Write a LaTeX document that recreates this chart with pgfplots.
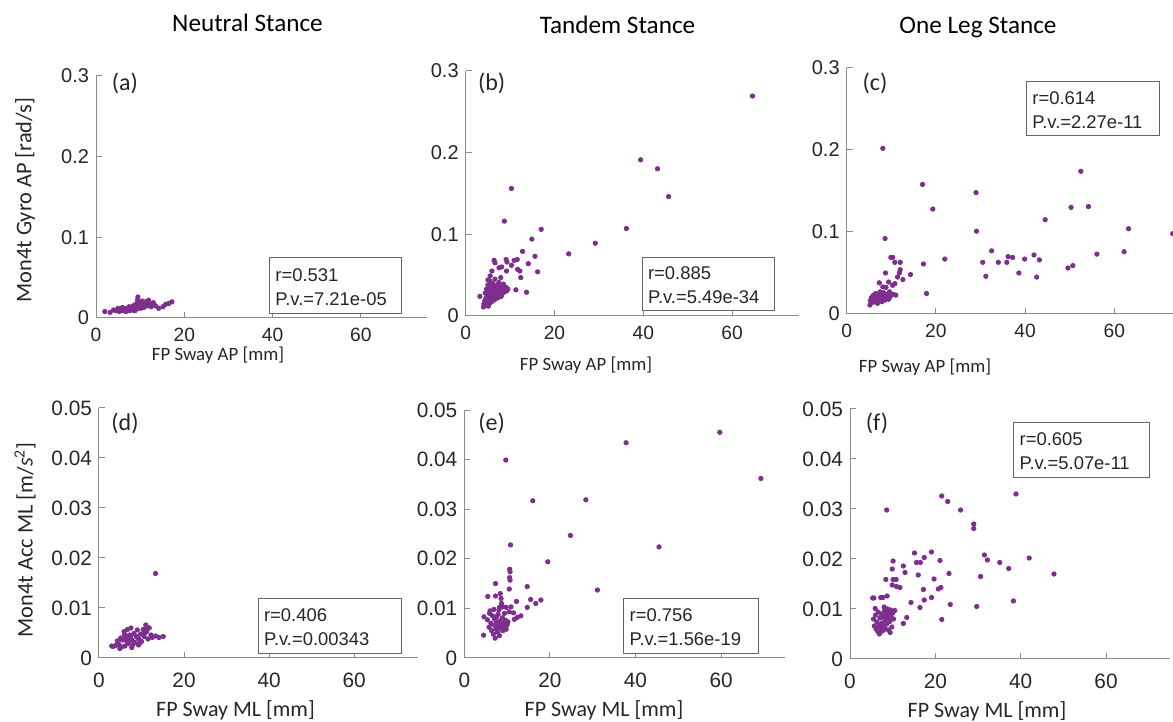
\documentclass[border=0pt]{standalone}
\usepackage{fontspec}
\setmainfont{Liberation Sans}
\newfontfamily\ar{Liberation Sans}
\newfontfamily\cb{Carlito}
\usepackage{pgfplots}
\pgfplotsset{compat=1.18}

\definecolor{mpurple}{RGB}{126,47,142}
\definecolor{axgray}{RGB}{140,140,140}
\definecolor{boxgray}{RGB}{100,100,100}
\definecolor{txt}{RGB}{38,38,38}

\pgfplotsset{
  dots/.style={only marks, mark=*, mark size=1.1pt, color=mpurple, fill=mpurple},
  panel/.style={
    scale only axis, anchor=south west,
    xmin=0, xmax=75,
    xtick={0,20,40,60}, xticklabels={0,20,40,60},
    scaled x ticks=false, scaled y ticks=false,
    axis x line*=bottom, axis y line*=left,
    axis line style={-, draw=axgray, line width=0.5pt},
    tick style={draw=axgray, line width=0.5pt},
    tick align=inside, major tick length=3pt,
    ticklabel style={text=txt},
  },
  toprow/.style={
    panel, ymin=0, ymax=0.3,
    ytick={0,0.1,0.2,0.3}, yticklabels={0,0.1,0.2,0.3},
    yticklabel style={font=\ar\fontsize{10}{12}\selectfont},
    xticklabel style={font=\ar\fontsize{9.6}{12}\selectfont, yshift=-1.7pt},
  },
  botrow/.style={
    panel, ymin=0, ymax=0.05,
    ytick={0,0.01,0.02,0.03,0.04,0.05}, yticklabels={0,0.01,0.02,0.03,0.04,0.05},
    yticklabel style={font=\ar\fontsize{10.4}{12}\selectfont},
    xticklabel style={font=\ar\fontsize{10.4}{12}\selectfont, yshift=-4pt},
  },
}

% stats box: x, y (north west), width, height, line1, line2
\newcommand{\statbox}[6]{%
  \node[draw=boxgray, fill=white, line width=0.5pt, anchor=north west,
        minimum width=#3, minimum height=#4, inner sep=0pt] (sb) at (#1,#2) {};
  \node[anchor=west, align=left, inner sep=0pt, text=txt,
        font=\ar\fontsize{9.2}{12}\selectfont] at ([xshift=3pt,yshift=-0.8pt]sb.west) {#5\\#6};
}

\begin{document}
\begin{tikzpicture}
\path[use as bounding box] (0,0) rectangle (586.5pt,361pt);

% (a)
\begin{axis}[toprow, at={(48pt,202pt)}, width=165.5pt, height=121pt]
\addplot[dots] coordinates {
(2.0,0.008)(3.2,0.007)(4.0,0.010)(4.5,0.009)(5.0,0.012)(5.3,0.008)(5.8,0.010)(6.0,0.013)
(6.2,0.009)(6.5,0.011)(6.8,0.008)(7.0,0.012)(7.2,0.010)(7.5,0.014)(7.6,0.009)(7.8,0.011)
(8.0,0.013)(8.2,0.010)(8.4,0.015)(8.6,0.012)(8.8,0.009)(9.0,0.017)(9.2,0.011)(9.4,0.022)
(9.5,0.026)(9.7,0.014)(9.9,0.019)(10.1,0.012)(10.3,0.016)(10.5,0.021)(10.8,0.013)(11.0,0.018)
(11.3,0.020)(11.6,0.015)(11.9,0.022)(12.2,0.017)(12.5,0.014)(13.0,0.019)(13.5,0.015)(14.2,0.012)
(15.2,0.014)(15.8,0.017)(16.5,0.018)(17.2,0.020)
};
\end{axis}

% (b)
\begin{axis}[toprow, at={(232.85pt,203pt)}, width=166.5pt, height=122.65pt]
\addplot[dots] coordinates {
(64.6,0.269)(39.4,0.191)(43.2,0.180)(45.7,0.146)(36.2,0.107)(29.2,0.089)(23.2,0.076)
(10.3,0.156)(8.7,0.116)(17.0,0.106)(14.9,0.094)(12.8,0.079)(15.6,0.073)(6.4,0.068)(6.6,0.065)
(9.1,0.069)(9.3,0.066)(10.9,0.068)(11.6,0.069)(14.1,0.064)(10.3,0.062)(7.5,0.059)(8.1,0.060)
(9.2,0.055)(11.7,0.057)(12.2,0.055)(16.2,0.054)(5.9,0.055)(7.9,0.047)(12.4,0.047)(5.5,0.049)
(11.3,0.032)(13.7,0.029)
(3.2,0.024)(4.0,0.011)(4.1,0.015)(4.3,0.019)(4.4,0.028)(4.5,0.013)(4.6,0.022)(4.7,0.033)
(4.8,0.017)(4.9,0.026)(5.0,0.038)(5.1,0.012)(5.2,0.030)(5.3,0.021)(5.4,0.043)(5.5,0.016)
(5.6,0.035)(5.7,0.025)(5.8,0.029)(5.9,0.019)(6.0,0.040)(6.1,0.032)(6.2,0.023)(6.3,0.036)
(6.4,0.027)(6.5,0.020)(6.6,0.045)(6.7,0.031)(6.8,0.024)(6.9,0.034)(7.0,0.028)(7.1,0.038)
(7.2,0.022)(7.3,0.030)(7.4,0.026)(7.5,0.041)(7.6,0.033)(7.8,0.029)(7.9,0.036)(8.0,0.024)
(8.2,0.032)(8.4,0.028)(8.5,0.039)(8.7,0.034)(8.9,0.030)(9.1,0.035)(9.3,0.031)(9.5,0.033)
(5.0,0.044)(6.0,0.018)
};
\end{axis}

% (c)
\begin{axis}[toprow, at={(423.35pt,204pt)}, width=167.25pt, height=123pt]
\addplot[dots] coordinates {
(8.1,0.202)(17.0,0.158)(19.3,0.128)(29.0,0.148)(29.1,0.101)(8.6,0.092)(22.0,0.067)(17.2,0.061)
(17.9,0.025)(14.3,0.048)(30.5,0.063)(31.2,0.046)(32.5,0.077)(34.0,0.063)(35.9,0.063)(36.2,0.070)
(37.2,0.069)(38.6,0.050)(39.9,0.067)(42.0,0.072)(42.6,0.045)(43.2,0.066)(44.5,0.115)(49.6,0.056)
(50.7,0.059)(50.3,0.130)(52.5,0.174)(54.2,0.131)(56.1,0.073)(62.2,0.076)(63.2,0.104)(73.1,0.098)
(9.9,0.069)(10.3,0.069)(10.8,0.063)(12.0,0.063)(12.0,0.054)(11.8,0.050)(11.4,0.045)(12.6,0.042)
(8.7,0.050)(9.4,0.039)(7.3,0.038)(8.1,0.033)(8.8,0.0325)(10.3,0.035)(10.8,0.037)(9.6,0.027)
(10.4,0.024)(11.0,0.023)
(5.2,0.011)(5.3,0.016)(5.5,0.020)(5.7,0.014)(5.9,0.018)(6.0,0.023)(6.2,0.015)(6.3,0.020)
(6.5,0.025)(6.6,0.017)(6.8,0.021)(6.9,0.013)(7.0,0.019)(7.1,0.024)(7.3,0.016)(7.4,0.022)
(7.5,0.027)(7.6,0.018)(7.8,0.020)(7.9,0.015)(8.0,0.023)(8.2,0.019)(8.3,0.026)(8.5,0.021)
(8.6,0.017)(8.8,0.024)(9.0,0.020)(9.2,0.022)(9.4,0.018)(9.7,0.021)
};
\end{axis}

% (d)
\begin{axis}[botrow, at={(49.5pt,32pt)}, width=159.5pt, height=125pt]
\addplot[dots] coordinates {
(13.3,0.0169)
(3.3,0.0023)(3.9,0.0025)(4.7,0.0027)(4.3,0.0034)(5.1,0.0040)(5.5,0.0036)(5.9,0.0053)(6.3,0.0041)
(6.7,0.0057)(6.9,0.0029)(7.2,0.0046)(7.5,0.0060)(7.7,0.0021)(7.8,0.0036)(8.2,0.0049)(8.5,0.0031)
(8.8,0.0043)(9.0,0.0056)(9.3,0.0026)(9.4,0.0038)(9.8,0.0048)(10.0,0.0033)(10.4,0.0057)(10.6,0.0043)
(11.0,0.0066)(11.2,0.0053)(11.5,0.0038)(11.8,0.0060)(12.2,0.0046)(12.5,0.0041)(13.3,0.0044)(14.1,0.0041)
(15.1,0.0043)(4.9,0.0019)(6.1,0.0024)(7.1,0.0035)
(3.0,0.0024)(5.3,0.0022)(6.5,0.0034)(8.0,0.0027)(9.6,0.0030)(10.8,0.0050)(11.3,0.0062)(7.4,0.0043)
(6.0,0.0047)(9.0,0.0041)
};
\end{axis}

% (e)
\begin{axis}[botrow, at={(232.15pt,32pt)}, width=160.5pt, height=124pt]
\addplot[dots] coordinates {
(9.7,0.0399)(37.8,0.0434)(59.7,0.0455)(69.3,0.0362)(16.0,0.0317)(28.4,0.0319)(24.8,0.0247)
(10.8,0.0228)(19.5,0.0194)(45.5,0.0224)(31.1,0.0137)
(10.6,0.0179)(10.7,0.0174)(10.6,0.0162)(10.7,0.0157)(7.3,0.0150)(10.5,0.0139)(14.7,0.0144)
(5.5,0.0124)(7.3,0.0125)(8.4,0.0130)(8.6,0.0120)(8.7,0.0110)(12.2,0.0114)(15.5,0.0118)(16.7,0.0110)
(17.9,0.0117)(14.7,0.0102)(8.2,0.0102)(9.0,0.0103)(9.8,0.0102)(10.9,0.0103)
(9.4,0.0090)(10.5,0.0093)(11.5,0.0091)(12.4,0.0082)(13.2,0.0085)(11.7,0.0078)(6.0,0.0095)
(4.6,0.0083)(4.5,0.0046)
(5.4,0.0077)(5.8,0.0062)(6.2,0.0070)(6.4,0.0055)(6.6,0.0085)(6.8,0.0048)(7.0,0.0066)(7.1,0.0078)
(7.2,0.0040)(7.4,0.0058)(7.6,0.0072)(7.8,0.0052)(7.9,0.0088)(8.0,0.0064)(8.2,0.0045)(8.3,0.0075)
(8.5,0.0060)(8.7,0.0068)(8.9,0.0081)(9.0,0.0055)(9.2,0.0071)(9.4,0.0063)(9.6,0.0076)(9.8,0.0058)
(10.0,0.0067)(10.2,0.0073)(5.9,0.0090)(6.9,0.0098)(8.1,0.0097)(7.5,0.0083)
};
\end{axis}

% (f)
\begin{axis}[botrow, at={(425pt,31.5pt)}, width=160pt, height=125pt]
\addplot[dots] coordinates {
(8.6,0.0298)(21.5,0.0326)(22.9,0.0315)(25.9,0.0298)(29.0,0.0270)(29.0,0.0261)(38.9,0.0330)
(31.5,0.0208)(32.2,0.0198)(35.1,0.0193)(37.2,0.0181)(42.0,0.0202)(47.8,0.0170)(30.6,0.0165)
(38.3,0.0116)(29.7,0.0105)(23.5,0.0109)(21.5,0.0079)
(15.1,0.0212)(19.1,0.0214)(17.4,0.0203)(15.6,0.0193)(16.5,0.0193)(21.1,0.0197)(10.1,0.0196)
(9.9,0.0180)(12.5,0.0186)(12.9,0.0173)(16.0,0.0168)(23.2,0.0171)(8.4,0.0159)(10.1,0.0159)
(10.8,0.0159)(9.9,0.0148)(10.9,0.0145)(11.7,0.0143)(19.7,0.0160)(17.2,0.0139)(20.7,0.0140)
(21.3,0.0143)(19.1,0.0123)(17.4,0.0118)(14.3,0.0113)(16.4,0.0103)(5.3,0.0122)(5.6,0.0122)
(7.2,0.0123)(7.7,0.0123)(8.7,0.0126)(5.9,0.0101)(13.3,0.0083)(12.5,0.0071)
(5.5,0.0080)(5.7,0.0066)(6.0,0.0088)(6.1,0.0060)(6.3,0.0074)(6.5,0.0055)(6.6,0.0094)(6.8,0.0068)
(6.9,0.0050)(7.0,0.0082)(7.2,0.0062)(7.3,0.0090)(7.5,0.0072)(7.6,0.0056)(7.8,0.0085)(7.9,0.0066)
(8.1,0.0096)(8.2,0.0078)(8.3,0.0060)(8.5,0.0088)(8.6,0.0070)(8.8,0.0100)(8.9,0.0082)(9.0,0.0058)
(9.2,0.0093)(9.3,0.0075)(9.5,0.0098)(9.6,0.0086)(9.8,0.0064)(10.0,0.0092)(10.2,0.0080)(10.5,0.0097)
(8.0,0.0104)(9.4,0.0053)
};
\end{axis}

% stats boxes
\statbox{134.5pt}{232.5pt}{66pt}{28pt}{r=0.531}{P.v.=7.21e-05}
\statbox{320.85pt}{232.65pt}{66.15pt}{26.65pt}{r=0.885}{P.v.=5.49e-34}
\statbox{513pt}{320.5pt}{66.65pt}{27pt}{r=0.614}{P.v.=2.27e-11}
\statbox{128.85pt}{61.85pt}{71.65pt}{27.2pt}{r=0.406}{P.v.=0.00343}
\statbox{311.65pt}{62.15pt}{67.5pt}{27.5pt}{r=0.756}{P.v.=1.56e-19}
\statbox{506.65pt}{149.85pt}{67.7pt}{27.2pt}{r=0.605}{P.v.=5.07e-11}

% column titles
\node[anchor=base, font=\cb\fontsize{12.6}{15}\selectfont] at (123.75pt,345.15pt) {Neutral Stance};
\node[anchor=base, font=\cb\fontsize{12.6}{15}\selectfont] at (308.75pt,344.3pt) {Tandem Stance};
\node[anchor=base, font=\cb\fontsize{12.6}{15}\selectfont] at (489pt,344.3pt) {One Leg Stance};

% panel letters
\foreach \lab/\x/\y in {a/62.5/319.5, b/245.85/319.5, c/437.5/319.5, d/62.5/149.5, e/245.85/149.5, f/438.5/149.5}
  \node[font=\cb\fontsize{12}{14}\selectfont, text=txt] at (\x pt,\y pt) {(\lab)};

% x labels
\node[font=\cb\fontsize{9.4}{11}\selectfont, text=txt] at (109pt,183.5pt) {FP Sway AP [mm]};
\node[font=\cb\fontsize{9.4}{11}\selectfont, text=txt] at (293pt,178.5pt) {FP Sway AP [mm]};
\node[font=\cb\fontsize{9.4}{11}\selectfont, text=txt] at (462.5pt,177.25pt) {FP Sway AP [mm]};
\node[font=\cb\fontsize{11}{13}\selectfont, text=txt] at (117.75pt,6pt) {FP Sway ML [mm]};
\node[font=\cb\fontsize{11}{13}\selectfont, text=txt] at (302pt,6pt) {FP Sway ML [mm]};
\node[font=\cb\fontsize{11}{13}\selectfont, text=txt] at (493.5pt,5.15pt) {FP Sway ML [mm]};

% y labels
\node[rotate=90, font=\cb\fontsize{11.2}{13}\selectfont, text=txt] at (12.5pt,261pt) {Mon4t Gyro AP [rad/s]};
\node[rotate=90, font=\cb\fontsize{11.2}{13}\selectfont, text=txt] at (12.5pt,91pt) {Mon4t Acc ML [m/\textit{s}\textsuperscript{2}]};
\end{tikzpicture}
\end{document}
